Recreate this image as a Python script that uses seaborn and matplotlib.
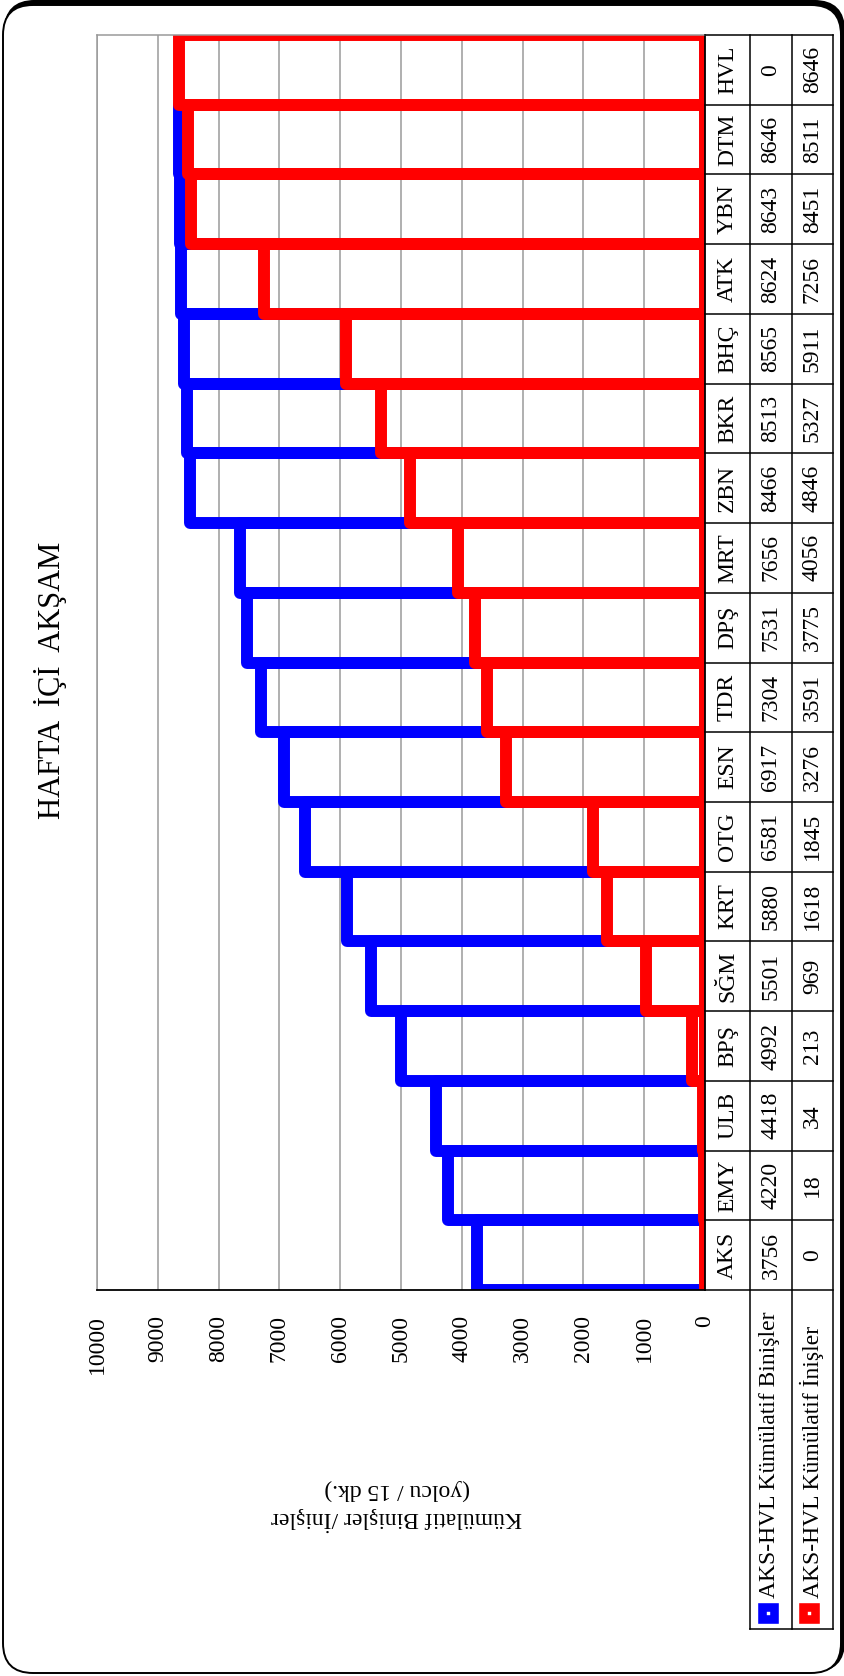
import matplotlib
matplotlib.use("Agg")
import matplotlib.pyplot as plt
import seaborn as sns
import pandas as pd
from matplotlib.transforms import blended_transform_factory, IdentityTransform
from matplotlib.patches import FancyBboxPatch
from matplotlib.lines import Line2D

# --- data -------------------------------------------------------------
stations = ["AKS", "EMY", "ULB", "BPŞ", "SĞM", "KRT", "OTG", "ESN", "TDR",
            "DPŞ", "MRT", "ZBN", "BKR", "BHÇ", "ATK", "YBN", "DTM", "HVL"]
boardings = [3756, 4220, 4418, 4992, 5501, 5880, 6581, 6917, 7304,
             7531, 7656, 8466, 8513, 8565, 8624, 8643, 8646, 0]
alightings = [0, 18, 34, 213, 969, 1618, 1845, 3276, 3591,
              3775, 4056, 4846, 5327, 5911, 7256, 8451, 8511, 8646]
value_ticks = [0, 1000, 2000, 3000, 4000, 5000, 6000, 7000, 8000, 9000, 10000]
title = "HAFTA  İÇİ  AKŞAM"
axis_title = "Kümülatif Binişler /İnişler\n(yolcu / 15 dk.)"
series_names = ["AKS-HVL Kümülatif Binişler", "AKS-HVL Kümülatif İnişler"]
series_colors = ["#0000FF", "#FF0000"]

df = pd.DataFrame({"durak": stations, "binis": boardings, "inis": alightings})

# --- figure & helpers (pixel layout, origin at top-left) --------------
W, H = 845, 1676
plt.rcParams["font.family"] = ["Liberation Serif", "DejaVu Sans"]
fig = plt.figure(figsize=(W / 100, H / 100), dpi=100)
fig.patch.set_facecolor("white")


def fx(px):
    return px / W


def fy(py):
    return 1 - py / H


# rounded chart frame with a shadow on the top/right sides
shadow = FancyBboxPatch((5, 5), 839, 1670, boxstyle="round,pad=0,rounding_size=30",
                        transform=IdentityTransform(), facecolor="black",
                        edgecolor="black", lw=1.5, zorder=-2)
frame = FancyBboxPatch((3, 3), 838, 1668, boxstyle="round,pad=0,rounding_size=30",
                       transform=IdentityTransform(), facecolor="white",
                       edgecolor="black", lw=1.4, zorder=-1)
fig.add_artist(shadow)
fig.add_artist(frame)

# plot area: values run right-to-left, stations bottom-to-top
PL, PR, PT, PB = 97, 705, 35, 1290
ax = fig.add_axes([fx(PL), fy(PB), (PR - PL) / W, (PB - PT) / H])
ax.set_facecolor("white")

common = dict(data=df, y="durak", order=stations, orient="h", width=1.0,
              fill=False, saturation=1, linewidth=8.6, errorbar=None, ax=ax)
sns.barplot(x="binis", color=series_colors[0], **common)
sns.barplot(x="inis", color=series_colors[1], **common)
for p in ax.patches:
    p.set_joinstyle("round")

ax.set_xlim(10000, 0)
ax.set_ylim(-0.5, len(stations) - 0.5)
ax.set_yticks([])
ax.set_xlabel("")
ax.set_ylabel("")
ax.set_xticks(value_ticks)
ax.set_xticklabels([str(v) for v in value_ticks])
ax.tick_params(axis="x", length=0, pad=18, labelsize=17, labelrotation=90)
ax.grid(axis="x", color="#9a9a9a", lw=1.1)
ax.grid(axis="y", visible=False)
ax.set_axisbelow(True)
ax.spines["top"].set_color("#9a9a9a")
ax.spines["left"].set_color("#9a9a9a")
ax.spines["top"].set_linewidth(1.1)
ax.spines["left"].set_linewidth(1.1)
ax.spines["bottom"].set_color("black")
ax.spines["right"].set_color("black")
ax.spines["bottom"].set_linewidth(1.3)
ax.spines["right"].set_linewidth(1.3)

# titles
fig.text(fx(51), fy(680), title, rotation=90, ha="center", va="center", fontsize=22)
fig.text(fx(397), fy(1505), axis_title, rotation=180, ha="center", va="center",
         fontsize=17, linespacing=1.4, multialignment="center")

# data table alongside the plot
COLS = [705, 750, 792, 833]
LEG_BOTTOM = 1629
tr = blended_transform_factory(fig.transFigure, ax.transData)
line_kw = dict(color="black", lw=1.1, clip_on=False)

for i in range(len(stations) + 1):
    fig.add_artist(Line2D([fx(COLS[0]), fx(COLS[-1])], [i - 0.5, i - 0.5],
                          transform=tr, **line_kw))
for x in COLS[1:]:
    fig.add_artist(Line2D([fx(x), fx(x)], [fy(PT), fy(LEG_BOTTOM)],
                          transform=fig.transFigure, **line_kw))
fig.add_artist(Line2D([fx(COLS[1]), fx(COLS[-1])], [fy(LEG_BOTTOM), fy(LEG_BOTTOM)],
                      transform=fig.transFigure, **line_kw))

centers = [(COLS[k] + COLS[k + 1]) / 2 for k in range(3)]
for i, name in enumerate(stations):
    for xc, txt in zip(centers, (name, str(boardings[i]), str(alightings[i]))):
        fig.text(fx(xc), i, txt, transform=tr, rotation=90, ha="center",
                 va="center", fontsize=17)

# legend cells under the value columns
for xc, name, col in zip(centers[1:], series_names, series_colors):
    fig.add_artist(Line2D([fx(xc - 3)], [fy(1613)], marker="s", ms=8.2, mew=6.2,
                          mfc="white", mec=col, ls="none", transform=fig.transFigure))
    fig.text(fx(xc - 1), fy(1598), name, rotation=90, ha="center", va="bottom",
             fontsize=17)

fig.savefig("out.png", dpi=100, facecolor="white")
